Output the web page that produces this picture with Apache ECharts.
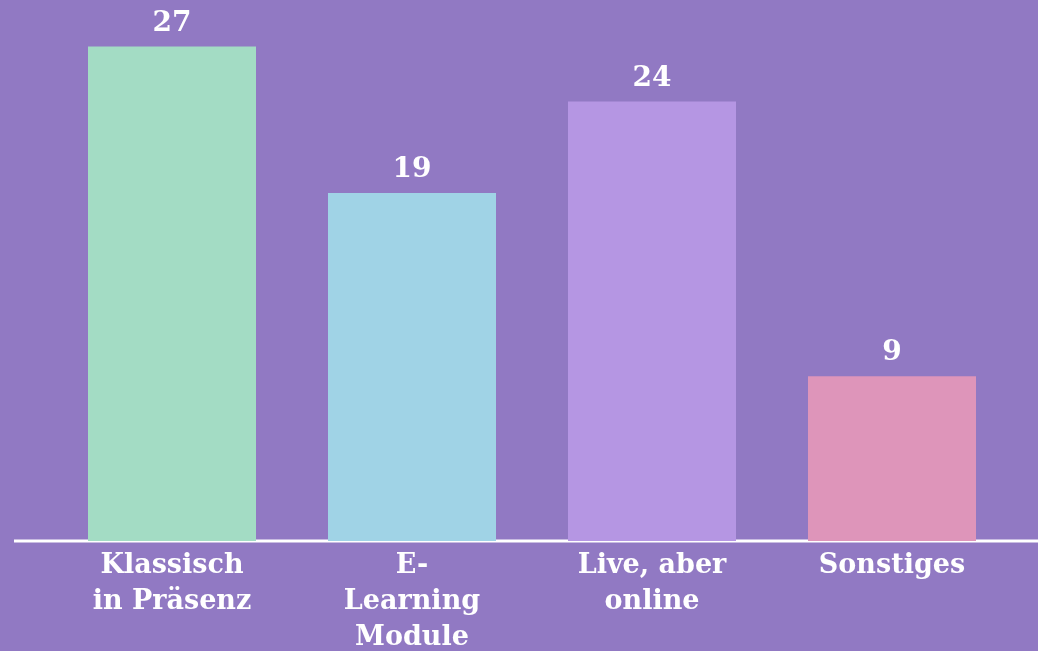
<!DOCTYPE html>
<html>
<head>
<meta charset="utf-8">
<script src="https://cdn.jsdelivr.net/npm/echarts@6/dist/echarts.min.js"></script>
<style>
  html, body { margin: 0; padding: 0; background: #9179c3; }
  #container { width: 1038px; height: 651px; }
</style>
</head>
<body>
<div id="container"></div>
<script>
var categories = ['Klassisch\nin Präsenz', 'E-\nLearning\nModule', 'Live, aber\nonline', 'Sonstiges'];
var values = [27, 19, 24, 9];
var barColors = ['#a3dcc4', '#a0d3e6', '#b596e3', '#de95ba'];

var dom = document.getElementById('container');
var myChart = echarts.init(dom);

var option = {
    backgroundColor: '#9179c3',
    animation: false,
    grid: {
        left: 52,
        right: 26,
        top: 10,
        bottom: 110,
        outerBoundsMode: 'none',
        containLabel: false
    },
    xAxis: {
        type: 'category',
        data: categories,
        axisLine: { show: false },
        axisTick: { show: false },
        axisLabel: {
            color: '#ffffff',
            fontFamily: 'DejaVu Serif',
            fontWeight: 'bold',
            fontSize: 27,
            lineHeight: 36,
            margin: 7,
            interval: 0
        }
    },
    yAxis: {
        type: 'value',
        min: 0,
        max: 29,
        show: false,
        splitLine: { show: false }
    },
    graphic: [{
        type: 'line',
        shape: { x1: 14, y1: 541, x2: 1038, y2: 541 },
        style: { stroke: '#ffffff', lineWidth: 3 }
    }],
    series: [{
        type: 'bar',
        barWidth: '70%',
        data: values.map(function (v, i) {
            return { value: v, itemStyle: { color: barColors[i] } };
        }),
        label: {
            show: true,
            position: 'top',
            distance: 9,
            color: '#ffffff',
            fontFamily: 'DejaVu Serif',
            fontWeight: 'bold',
            fontSize: 28
        }
    }]
};

myChart.setOption(option);
</script>
</body>
</html>
